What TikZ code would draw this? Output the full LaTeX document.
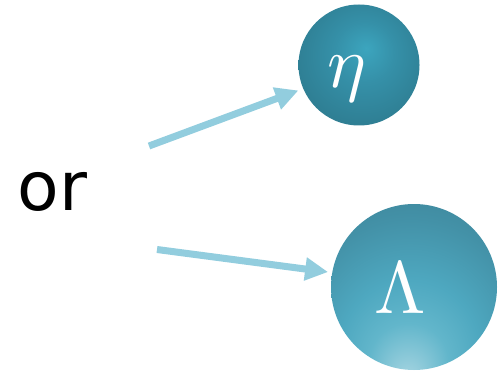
\documentclass[tikz,border=0pt]{standalone}
\usepackage{graphicx}
\usepackage{fontspec}
\newfontfamily\orfont{DejaVu Sans}
\usetikzlibrary{arrows.meta}
\definecolor{arrowblue}{HTML}{92CDDE}
\definecolor{etaedge}{HTML}{2D7A8E}
\definecolor{etamid}{HTML}{3590A8}
\definecolor{etacenter}{HTML}{3CA5BE}
\definecolor{lamA}{HTML}{A8D6E2}
\definecolor{lamB}{HTML}{62B6CB}
\definecolor{lamC}{HTML}{4EA8C0}
\definecolor{lamD}{HTML}{4391A7}
\definecolor{lamE}{HTML}{3A7F93}
\pgfdeclareradialshading{etashade}{\pgfpoint{3bp}{7bp}}{color(0bp)=(etacenter); color(12.5bp)=(etamid); color(32bp)=(etaedge); color(50bp)=(etaedge)}
\pgfdeclareradialshading{lamshade}{\pgfpoint{-2bp}{-28bp}}{color(0bp)=(lamA); color(12bp)=(lamB); color(21bp)=(lamC); color(34bp)=(lamD); color(47bp)=(lamE); color(65bp)=(lamE)}
\tikzset{
  ball/.style={circle, draw=none, inner sep=0pt, shading=#1},
  letter/.style={text=white, inner sep=0pt, font=\fontsize{10}{12}\selectfont},
  conn/.style={draw=arrowblue, line width=7pt, -{Triangle[length=23pt,width=22pt]}}
}
\begin{document}
\begin{tikzpicture}[x=1pt,y=-1pt]
\useasboundingbox (0,0) rectangle (502,371);
\node[ball=etashade, minimum size=121pt] (eta) at (359,65) {};
\node[ball=lamshade, minimum size=166pt] (lam) at (414,287) {};
\node[letter] (etaL) at (347,78.4) {\scalebox{7.3}{$\eta$}};
\node[letter] (lamL) at (400.5,288.5) {\scalebox{7.4}{$\Lambda$}};
\node[inner sep=0pt, font=\orfont\fontsize{68}{74}\selectfont] (or) at (52.5,191.6) {or};
\coordinate (s1) at (149,146);
\coordinate (s2) at (157,249.5);
\draw[conn, shorten >=5pt] (s1) -- (eta.203);
\draw[conn, shorten >=4pt] (s2) -- (lam.170);
\end{tikzpicture}
\end{document}
